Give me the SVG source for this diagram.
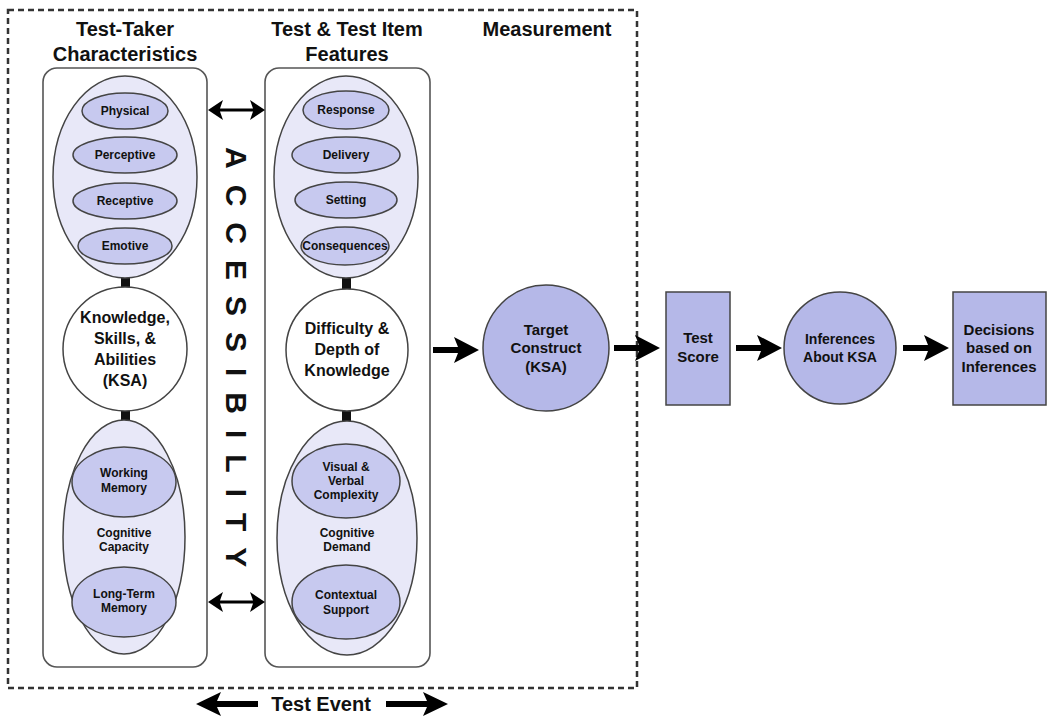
<svg xmlns="http://www.w3.org/2000/svg" xmlns:xlink="http://www.w3.org/1999/xlink" width="1053" height="717" viewBox="0 0 1053 717">
  <style>
    text { font-family: "Liberation Sans", Arial, Helvetica, sans-serif; font-weight: bold; fill: #111; text-anchor: middle; }
    .head { font-size: 20px; }
    .big { font-size: 16px; }
    .mid { font-size: 15px; }
    .sm { font-size: 12px; }
    .panel { fill: #fff; stroke: #555; stroke-width: 1.6; }
    .group { fill: #e8e8f8; stroke: #444; stroke-width: 1.5; }
    .item { fill: #c7c9ef; stroke: #444; stroke-width: 1.5; }
    .core { fill: #fff; stroke: #444; stroke-width: 1.5; }
    .flow { fill: #b5b8e8; stroke: #444; stroke-width: 1.5; }
    .bar { fill: #111; }
    .frame { fill: none; stroke: #333; stroke-width: 2.5; stroke-dasharray: 6 4; }
  </style>
  <defs>
    <!-- heavy right-pointing arrow, tip at x=46 -->
    <path id="fat" d="M0,-3 L25,-3 L21,-13 L46,0 L21,13 L25,3 L0,3 Z" fill="#000"/>
    <!-- long heavy arrow for the time axis, tip at x=62 -->
    <path id="longfat" d="M0,-3 L41,-3 L37,-12 L62,0 L37,12 L41,3 L0,3 Z" fill="#000"/>
    <!-- thin double-headed arrow, 57 long -->
    <path id="dbl" d="M0,0 L15,-10 L12,-1.5 L45,-1.5 L42,-10 L57,0 L42,10 L45,1.5 L12,1.5 L15,10 Z" fill="#000"/>
  </defs>

  <rect width="1053" height="717" fill="#fff"/>

  <!-- test event frame -->
  <rect class="frame" x="8" y="10" width="629" height="678"/>

  <!-- headings -->
  <g id="headings">
    <text class="head" x="125" y="36">Test-Taker</text>
    <text class="head" x="125" y="61">Characteristics</text>
    <text class="head" x="347" y="36">Test &amp; Test Item</text>
    <text class="head" x="347" y="61">Features</text>
    <text class="head" x="547" y="36">Measurement</text>
  </g>

  <!-- panels -->
  <rect class="panel" x="43" y="68" width="164" height="599" rx="14"/>
  <rect class="panel" x="265" y="68" width="165" height="599" rx="14"/>

  <!-- connectors -->
  <g id="connectors">
    <rect class="bar" x="121" y="128" width="9" height="11"/>
    <rect class="bar" x="121" y="172" width="9" height="12"/>
    <rect class="bar" x="121" y="218" width="9" height="11"/>
    <rect class="bar" x="121" y="277" width="9" height="12"/>
    <rect class="bar" x="121" y="409" width="9" height="12"/>

    <rect class="bar" x="342" y="128" width="9" height="11"/>
    <rect class="bar" x="342" y="172" width="9" height="12"/>
    <rect class="bar" x="342" y="217" width="9" height="12"/>
    <rect class="bar" x="342" y="277" width="9" height="14"/>
    <rect class="bar" x="342" y="409" width="9" height="12"/>

    <use xlink:href="#dbl" x="208" y="110"/>
    <use xlink:href="#dbl" x="208" y="602"/>

    <use xlink:href="#fat" x="433" y="350"/>
    <use xlink:href="#fat" x="614" y="348"/>
    <use xlink:href="#fat" x="736" y="348"/>
    <use xlink:href="#fat" x="903" y="348"/>

    <use xlink:href="#longfat" transform="translate(258,704) scale(-1,1)"/>
    <use xlink:href="#longfat" transform="translate(386,704)"/>
  </g>

  <!-- accessibility, running down between the panels -->
  <text transform="translate(226,147) rotate(90)" x="0" y="0" style="font-size:30px; text-anchor:start; letter-spacing:16px">ACCESSIBILITY</text>

  <!-- test-taker characteristics -->
  <g id="sensory">
    <ellipse class="group" cx="125" cy="177" rx="72" ry="101"/>
  </g>
  <g id="physical">
    <ellipse class="item" cx="125" cy="111" rx="43" ry="18"/>
    <text class="sm" x="125" y="115">Physical</text>
  </g>
  <g id="perceptive">
    <ellipse class="item" cx="125" cy="155" rx="52" ry="18"/>
    <text class="sm" x="125" y="159">Perceptive</text>
  </g>
  <g id="receptive">
    <ellipse class="item" cx="125" cy="201" rx="52" ry="18"/>
    <text class="sm" x="125" y="205">Receptive</text>
  </g>
  <g id="emotive">
    <ellipse class="item" cx="125" cy="246" rx="47" ry="18"/>
    <text class="sm" x="125" y="250">Emotive</text>
  </g>
  <g id="ksa">
    <circle class="core" cx="125" cy="349" r="62"/>
    <text class="big" x="125" y="323">Knowledge,</text>
    <text class="big" x="125" y="344">Skills, &amp;</text>
    <text class="big" x="125" y="365">Abilities</text>
    <text class="big" x="125" y="386">(KSA)</text>
  </g>
  <g id="cognitive-capacity">
    <ellipse class="group" cx="124" cy="537" rx="61" ry="117"/>
    <text class="sm" x="124" y="537">Cognitive</text>
    <text class="sm" x="124" y="551">Capacity</text>
  </g>
  <g id="working-memory">
    <ellipse class="item" cx="124" cy="482" rx="52" ry="35"/>
    <text class="sm" x="124" y="477">Working</text>
    <text class="sm" x="124" y="492">Memory</text>
  </g>
  <g id="long-term-memory">
    <ellipse class="item" cx="124" cy="602" rx="52" ry="35"/>
    <text class="sm" x="124" y="598">Long-Term</text>
    <text class="sm" x="124" y="612">Memory</text>
  </g>

  <!-- test and test item features -->
  <g id="administration">
    <ellipse class="group" cx="346" cy="177" rx="72" ry="101"/>
  </g>
  <g id="response">
    <ellipse class="item" cx="346" cy="110" rx="43" ry="19"/>
    <text class="sm" x="346" y="114">Response</text>
  </g>
  <g id="delivery">
    <ellipse class="item" cx="346" cy="155" rx="54" ry="18"/>
    <text class="sm" x="346" y="159">Delivery</text>
  </g>
  <g id="setting">
    <ellipse class="item" cx="346" cy="200" rx="51" ry="18"/>
    <text class="sm" x="346" y="204">Setting</text>
  </g>
  <g id="consequences">
    <ellipse class="item" cx="345" cy="246" rx="44" ry="19"/>
    <text class="sm" x="345" y="250">Consequences</text>
  </g>
  <g id="difficulty">
    <circle class="core" cx="347" cy="350" r="61"/>
    <text class="big" x="347" y="334">Difficulty &amp;</text>
    <text class="big" x="347" y="355">Depth of</text>
    <text class="big" x="347" y="376">Knowledge</text>
  </g>
  <g id="cognitive-demand">
    <ellipse class="group" cx="347" cy="538" rx="70" ry="117"/>
    <text class="sm" x="347" y="537">Cognitive</text>
    <text class="sm" x="347" y="551">Demand</text>
  </g>
  <g id="complexity">
    <ellipse class="item" cx="346" cy="481" rx="54" ry="37"/>
    <text class="sm" x="346" y="471">Visual &amp;</text>
    <text class="sm" x="346" y="485">Verbal</text>
    <text class="sm" x="346" y="499">Complexity</text>
  </g>
  <g id="contextual-support">
    <ellipse class="item" cx="346" cy="602" rx="54" ry="37"/>
    <text class="sm" x="346" y="599">Contextual</text>
    <text class="sm" x="346" y="614">Support</text>
  </g>

  <!-- measurement chain -->
  <g id="target-construct">
    <circle class="flow" cx="546" cy="348" r="63"/>
    <text class="mid" x="546" y="335">Target</text>
    <text class="mid" x="546" y="353">Construct</text>
    <text class="mid" x="546" y="372">(KSA)</text>
  </g>
  <g id="test-score">
    <rect class="flow" x="666" y="292" width="64" height="113"/>
    <text class="mid" x="698" y="343">Test</text>
    <text class="mid" x="698" y="362">Score</text>
  </g>
  <g id="inferences">
    <circle class="flow" cx="840" cy="348" r="56"/>
    <text class="sm" x="840" y="344" style="font-size:14px">Inferences</text>
    <text class="sm" x="840" y="362" style="font-size:14px">About KSA</text>
  </g>
  <g id="decisions">
    <rect class="flow" x="953" y="292" width="93" height="113"/>
    <text class="mid" x="999" y="335">Decisions</text>
    <text class="mid" x="999" y="353">based on</text>
    <text class="mid" x="999" y="372">Inferences</text>
  </g>

  <!-- test event -->
  <g id="test-event">
    <text class="head" x="321" y="711">Test Event</text>
  </g>
</svg>
